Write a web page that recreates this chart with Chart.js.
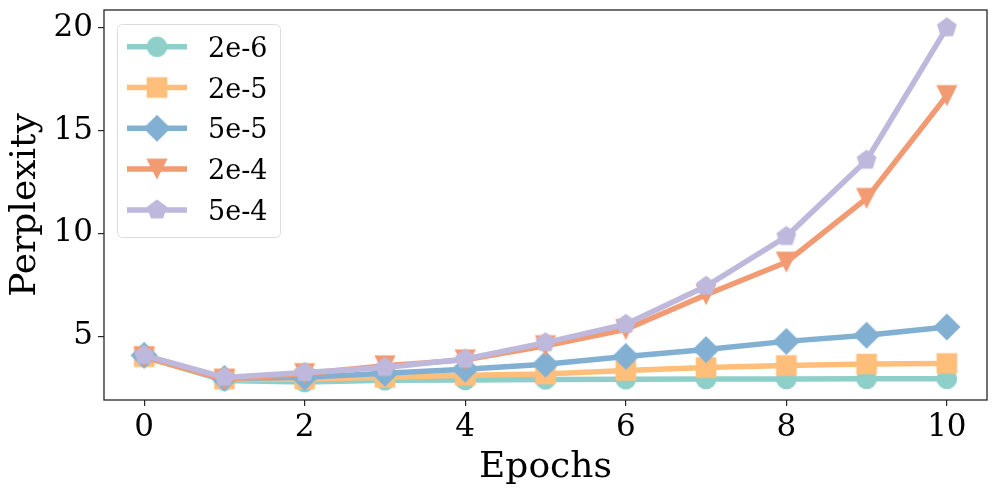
<!DOCTYPE html>
<html><head><meta charset="utf-8">
<script src="https://cdn.jsdelivr.net/npm/chart.js@4/dist/chart.umd.min.js"></script>
<style>html,body{margin:0;padding:0;background:#fff;overflow:hidden;} #wrap{width:997px;height:494px;}</style>
</head><body><div id="wrap"><canvas id="c" width="997" height="494"></canvas></div>
<script>
const epochs = [0, 1, 2, 3, 4, 5, 6, 7, 8, 9, 10];
const seriesNames = ['2e-6', '2e-5', '5e-5', '2e-4', '5e-4'];
const lr2e6 = [4.0, 2.85, 2.77, 2.86, 2.87, 2.9, 2.91, 2.92, 2.92, 2.93, 2.93];
const lr2e5 = [4.0, 2.92, 2.92, 3.0, 3.1, 3.16, 3.33, 3.48, 3.58, 3.65, 3.68];
const lr5e5 = [4.07, 2.95, 3.0, 3.2, 3.4, 3.64, 4.02, 4.35, 4.75, 5.05, 5.45];
const lr2e4 = [4.0, 2.9, 3.18, 3.56, 3.85, 4.54, 5.33, 7.02, 8.6, 11.7, 16.7];
const lr5e4 = [4.07, 3.0, 3.24, 3.48, 3.89, 4.69, 5.58, 7.43, 9.85, 13.56, 20.0];
const xTicks = [0, 2, 4, 6, 8, 10];
const yTicks = [5, 10, 15, 20];
const xTitle = 'Epochs';
const yTitle = 'Perplexity';

const colors = ['#8ECFC9', '#FFBE7A', '#82B0D2', '#F29A72', '#BEB8DC'];
const markerKinds = ['circle', 'square', 'diamond', 'tri', 'pent'];
const allSeries = [lr2e6, lr2e5, lr5e5, lr2e4, lr5e4];
const FONT = "'DejaVu Serif', serif";

function makeMarker(kind, color) {
  const S = 32;
  const c = document.createElement('canvas');
  c.width = S; c.height = S;
  const g = c.getContext('2d');
  g.fillStyle = color;
  g.translate(S / 2, S / 2);
  g.beginPath();
  if (kind === 'circle') {
    g.arc(0, 0, 10.3, 0, Math.PI * 2);
  } else if (kind === 'square') {
    g.rect(-10.3, -10.3, 20.6, 20.6);
  } else if (kind === 'diamond') {
    const d = 13.6;
    g.moveTo(0, -d); g.lineTo(d, 0); g.lineTo(0, d); g.lineTo(-d, 0); g.closePath();
  } else if (kind === 'tri') {
    const h = 10.6;
    g.moveTo(0, h); g.lineTo(-h, -h); g.lineTo(h, -h); g.closePath();
  } else if (kind === 'pent') {
    const r = 10.4;
    for (let i = 0; i < 5; i++) {
      const a = -Math.PI / 2 + i * 2 * Math.PI / 5;
      const px = r * Math.cos(a), py = r * Math.sin(a);
      if (i === 0) g.moveTo(px, py); else g.lineTo(px, py);
    }
    g.closePath();
  }
  g.fill();
  return c;
}

const markers = markerKinds.map((k, i) => makeMarker(k, colors[i]));

const datasets = allSeries.map((vals, i) => ({
  label: seriesNames[i],
  data: epochs.map((e, j) => ({ x: e, y: vals[j] })),
  borderColor: colors[i],
  backgroundColor: colors[i],
  borderWidth: 5.5,
  pointStyle: markers[i],
  pointRadius: 10,
  pointHoverRadius: 10,
  tension: 0,
  fill: false,
  order: allSeries.length - i
}));

const framePlugin = {
  id: 'frame',
  afterDatasetsDraw(chart) {
    const { ctx, chartArea: a } = chart;
    ctx.save();
    ctx.strokeStyle = '#262626';
    ctx.lineWidth = 1.3;
    ctx.strokeRect(a.left, a.top, a.right - a.left, a.bottom - a.top);
    ctx.restore();
  }
};

const legendPlugin = {
  id: 'mplLegend',
  afterDraw(chart) {
    const ctx = chart.ctx;
    ctx.save();
    const bx = 117.5, by = 24.5, bw = 163, bh = 213;
    ctx.beginPath();
    ctx.roundRect(bx, by, bw, bh, 5);
    ctx.fillStyle = 'rgba(255,255,255,0.8)';
    ctx.fill();
    ctx.strokeStyle = '#dcdcdc';
    ctx.lineWidth = 1;
    ctx.stroke();
    const rowY = 46.7, step = 40.8;
    seriesNames.forEach((name, i) => {
      const y = rowY + i * step;
      ctx.beginPath();
      ctx.moveTo(127, y); ctx.lineTo(187, y);
      ctx.strokeStyle = colors[i];
      ctx.lineWidth = 5.5;
      ctx.stroke();
      const m = markers[i];
      ctx.drawImage(m, 157 - m.width / 2, y - m.height / 2);
      ctx.fillStyle = '#000';
      ctx.font = '27px ' + FONT;
      ctx.textAlign = 'left';
      ctx.textBaseline = 'alphabetic';
      ctx.fillText(name, 208, y + 10);
    });
    ctx.restore();
  }
};

new Chart(document.getElementById('c'), {
  type: 'line',
  data: { datasets },
  options: {
    responsive: false,
    animation: false,
    events: [],
    layout: { autoPadding: false, padding: { left: 0, right: 10, top: 10, bottom: 0 } },
    plugins: { legend: { display: false }, tooltip: { enabled: false } },
    scales: {
      x: {
        type: 'linear',
        min: -0.5, max: 10.5,
        afterBuildTicks(s) { s.ticks = xTicks.map(v => ({ value: v })); },
        afterFit(s) { s.height = 94; s.paddingLeft = 0; s.paddingRight = 0; s.paddingTop = 0; s.paddingBottom = 0; },
        grid: { display: true, drawOnChartArea: false, drawTicks: true, tickLength: 6, color: '#262626', lineWidth: 1.2 },
        border: { display: false },
        ticks: { color: '#000', font: { family: FONT, size: 31 }, padding: 3, maxRotation: 0, autoSkip: false },
        title: { display: true, text: xTitle, color: '#000', font: { family: FONT, size: 36 }, padding: { top: 0, bottom: 5 } }
      },
      y: {
        type: 'linear',
        min: 1.9, max: 20.86,
        afterBuildTicks(s) { s.ticks = yTicks.map(v => ({ value: v })); },
        afterFit(s) { s.width = 104; s.paddingLeft = 0; s.paddingRight = 0; s.paddingTop = 0; s.paddingBottom = 0; },
        grid: { display: true, drawOnChartArea: false, drawTicks: true, tickLength: 6, color: '#262626', lineWidth: 1.2 },
        border: { display: false },
        ticks: { color: '#000', font: { family: FONT, size: 31 }, padding: 5, autoSkip: false },
        title: { display: true, text: yTitle, color: '#000', font: { family: FONT, size: 36 }, padding: { top: 4, bottom: 0 } }
      }
    }
  },
  plugins: [framePlugin, legendPlugin]
});
</script>
</body></html>
